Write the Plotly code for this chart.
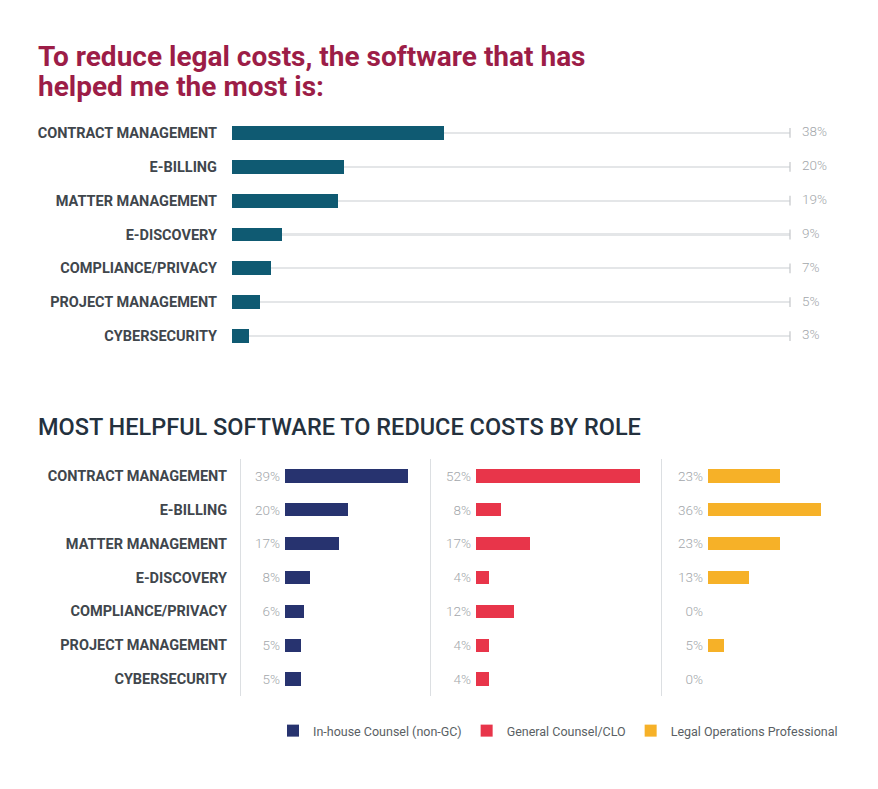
import plotly.graph_objects as go

categories = ["CONTRACT MANAGEMENT", "E-BILLING", "MATTER MANAGEMENT", "E-DISCOVERY",
              "COMPLIANCE/PRIVACY", "PROJECT MANAGEMENT", "CYBERSECURITY"]
overall = [38, 20, 19, 9, 7, 5, 3]
inhouse = [39, 20, 17, 8, 6, 5, 5]
gc_clo = [52, 8, 17, 4, 12, 4, 4]
legal_ops = [23, 36, 23, 13, 0, 5, 0]
role_names = ["In-house Counsel (non-GC)", "General Counsel/CLO", "Legal Operations Professional"]
title_lines = ["To reduce legal costs, the software that has", "helped me the most is:"]
subtitle = "MOST HELPFUL SOFTWARE TO REDUCE COSTS BY ROLE"
track_max = [100] * len(categories)

W, H = 878, 789
TEAL = "#0f5a72"
NAVY = "#27336f"
RED = "#e8354a"
GOLD = "#f6b128"
LABEL_COL = "#40464c"
PCT_COL = "#a3a7ab"

idx = list(range(len(categories)))
def px(x):
    return x / W
def py(y):
    return 1 - y / H

fig = go.Figure()

# top chart: track lines, bars, end ticks + labels
fig.add_trace(go.Bar(x=track_max, y=idx, orientation="h", width=0.06,
                     marker=dict(color="#e4e6e8", line_width=0), showlegend=False,
                     hoverinfo="skip", xaxis="x", yaxis="y"))
fig.add_trace(go.Bar(x=overall, y=idx, orientation="h", width=0.41,
                     marker=dict(color=TEAL, line_width=0), showlegend=False,
                     xaxis="x", yaxis="y"))
fig.add_trace(go.Scatter(x=track_max, y=idx, mode="markers+text",
                         marker=dict(symbol="line-ns", size=7, line=dict(color="#c4c7ca", width=1.2)),
                         text=[f"  {v}%" for v in overall], textposition="middle right",
                         textfont=dict(family="Roboto", size=13.5, color=PCT_COL, weight=300),
                         showlegend=False, hoverinfo="skip", cliponaxis=False,
                         xaxis="x", yaxis="y"))

# bottom panels
for vals, col, name, xa, ya in [(inhouse, NAVY, role_names[0], "x2", "y2"),
                                (gc_clo, RED, role_names[1], "x3", "y3"),
                                (legal_ops, GOLD, role_names[2], "x4", "y4")]:
    fig.add_trace(go.Bar(x=vals, y=idx, orientation="h", width=0.39, name=name,
                         marker=dict(color=col, line_width=0), xaxis=xa, yaxis=ya))

# invisible traces for divider/label axes
for xa, ya in [("x2", "y5"), ("x3", "y6"), ("x4", "y7")]:
    fig.add_trace(go.Scatter(x=[0] * len(idx), y=idx, mode="markers", marker=dict(opacity=0),
                             showlegend=False, hoverinfo="skip", xaxis=xa, yaxis=ya))

cat_font = dict(family="Roboto", size=14.5, color=LABEL_COL, weight=700)
pct_font = dict(family="Roboto", size=13.5, color=PCT_COL, weight=300)
yr = [len(idx) - 0.5, -0.5]

top_dom = [py(353), py(116)]
bot_dom = [py(696), py(459)]

title_font = dict(family="Roboto", size=28, color="#9c1d47", weight=700)

layout = dict(
    width=W, height=H, margin=dict(l=0, r=0, t=0, b=0),
    paper_bgcolor="white", plot_bgcolor="rgba(0,0,0,0)",
    barmode="overlay", bargap=0,
    font=dict(family="Roboto"),
    xaxis=dict(domain=[px(232), px(790)], range=[0, 100], visible=False, anchor="y"),
    yaxis=dict(domain=top_dom, range=yr, tickvals=idx, ticktext=categories,
               showgrid=False, zeroline=False, showline=False, ticks="",
               tickfont=cat_font, ticklabelstandoff=14, anchor="x"),
    xaxis2=dict(domain=[px(285), px(425)], range=[0, 140 / 3.15], visible=False, anchor="y2"),
    xaxis3=dict(domain=[px(476), px(656)], range=[0, 180 / 3.15], visible=False, anchor="y3"),
    xaxis4=dict(domain=[px(708), px(860)], range=[0, 152 / 3.15], visible=False, anchor="y4"),
    legend=dict(orientation="h", x=px(273), xanchor="left", y=py(731), yanchor="middle",
                font=dict(family="Roboto", size=12.5, color="#5a5f64"),
                itemwidth=30, traceorder="normal"),
    annotations=[
        dict(text=title_lines[0], xref="paper", yref="paper", x=px(36), y=py(56),
             xanchor="left", yanchor="middle", showarrow=False, font=title_font),
        dict(text=title_lines[1], xref="paper", yref="paper", x=px(36), y=py(86),
             xanchor="left", yanchor="middle", showarrow=False, font=title_font),
        dict(text=subtitle, xref="paper", yref="paper",
             x=px(36), y=py(427), xanchor="left", yanchor="middle", showarrow=False,
             font=dict(family="Roboto", size=23.5, color="#24313e", weight=500)),
    ],
)
for n, vals in [(2, inhouse), (3, gc_clo), (4, legal_ops)]:
    layout[f"yaxis{n}"] = dict(domain=bot_dom, range=yr, tickvals=idx,
                               ticktext=[f"{v}%" for v in vals], showgrid=False, zeroline=False,
                               showline=False, ticks="", tickfont=pct_font,
                               ticklabelstandoff=4, anchor=f"x{n}")
layout["yaxis5"] = dict(overlaying="y2", anchor="free", position=px(240), range=yr,
                        tickvals=idx, ticktext=categories, showgrid=False, zeroline=False,
                        showline=True, linecolor="#dcdfe2", linewidth=1, ticks="",
                        tickfont=cat_font, ticklabelstandoff=10)
layout["yaxis6"] = dict(overlaying="y3", anchor="free", position=px(430), range=yr,
                        showticklabels=False, showgrid=False, zeroline=False,
                        showline=True, linecolor="#dcdfe2", linewidth=1, ticks="")
layout["yaxis7"] = dict(overlaying="y4", anchor="free", position=px(661), range=yr,
                        showticklabels=False, showgrid=False, zeroline=False,
                        showline=True, linecolor="#dcdfe2", linewidth=1, ticks="")
fig.update_layout(**layout)

fig.write_html("out.html")
